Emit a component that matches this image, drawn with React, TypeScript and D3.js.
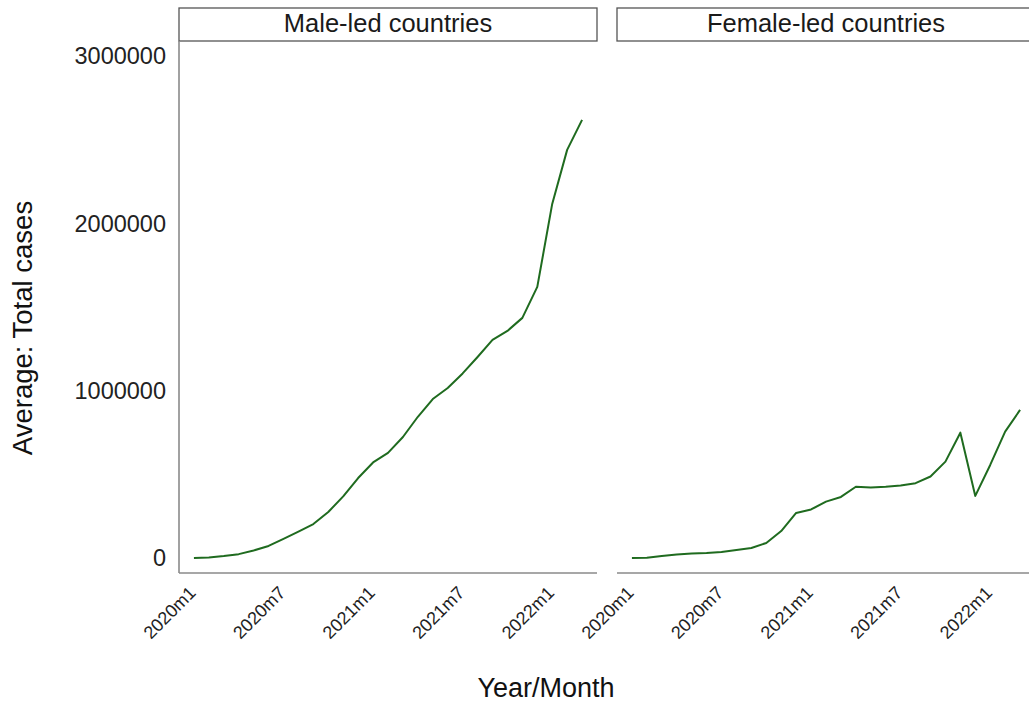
import React from "react";
import * as d3 from "d3";

const months = [
  "2020m1","2020m2","2020m3","2020m4","2020m5","2020m6","2020m7","2020m8","2020m9",
  "2020m10","2020m11","2020m12","2021m1","2021m2","2021m3","2021m4","2021m5","2021m6",
  "2021m7","2021m8","2021m9","2021m10","2021m11","2021m12","2022m1","2022m2","2022m3",
];

const maleLed = [
  0, 3000, 12000, 23000, 45000, 72000, 114000, 158000, 203000,
  275000, 368000, 478000, 571000, 628000, 723000, 844000, 950000, 1016000,
  1103000, 1201000, 1303000, 1357000, 1435000, 1620000, 2116000, 2439000, 2618000,
];

const femaleLed = [
  0, 1000, 12000, 21000, 27000, 30000, 36000, 48000, 60000,
  90000, 161000, 269000, 290000, 337000, 365000, 426000, 421000, 426000,
  433000, 447000, 487000, 576000, 749000, 371000, 556000, 755000, 885000,
];

const panelTitles = ["Male-led countries", "Female-led countries"];
const xTickLabels = ["2020m1", "2020m7", "2021m1", "2021m7", "2022m1"];
const yTicks = [0, 1000000, 2000000, 3000000];

const FONT = "'Liberation Sans', Arial, Helvetica, sans-serif";
const W = 1029;
const H = 703;

const panelLefts = [179, 617];
const panelWidth = 418;
const panelTop = 41;
const panelBottom = 573;
const stripTop = 8;

export default function App() {
  const y = d3.scaleLinear().domain([0, 3000000]).range([558, 56]);
  const series = [maleLed, femaleLed];

  return (
    <svg
      width={W}
      height={H}
      style={{ position: "absolute", left: 0, top: 0, display: "block", background: "#fff" }}
      fontFamily={FONT}
    >
      <rect x={0} y={0} width={W} height={H} fill="#fff" />
      {series.map((vals, p) => {
        const left = panelLefts[p];
        const x = d3
          .scaleLinear()
          .domain([-1, months.length])
          .range([left, left + panelWidth]);
        const line = d3
          .line<number>()
          .x((_, i) => x(i))
          .y((d) => y(d));
        return (
          <g key={p}>
            {/* strip */}
            <rect
              x={left}
              y={stripTop}
              width={panelWidth}
              height={panelTop - stripTop}
              fill="#fff"
              stroke="#555"
              strokeWidth={1.3}
            />
            <text
              x={left + panelWidth / 2}
              y={32}
              textAnchor="middle"
              fontSize={25.5}
              fill="#1a1a1a"
            >
              {panelTitles[p]}
            </text>
            {/* axes */}
            <line
              x1={left}
              x2={left + panelWidth}
              y1={panelBottom}
              y2={panelBottom}
              stroke="#8a8a8a"
              strokeWidth={1.6}
            />
            {p === 0 && (
              <line
                x1={left}
                x2={left}
                y1={panelTop}
                y2={panelBottom}
                stroke="#8a8a8a"
                strokeWidth={1.6}
              />
            )}
            {xTickLabels.map((lab) => {
              const i = months.indexOf(lab);
              const tx = x(i) + 3;
              const ty = 594;
              return (
                <text
                  key={lab}
                  transform={`translate(${tx},${ty}) rotate(-45)`}
                  textAnchor="end"
                  fontSize={18}
                  fill="#222"
                >
                  {lab}
                </text>
              );
            })}
            <path
              d={line(vals) || ""}
              fill="none"
              stroke="#1f6b1f"
              strokeWidth={2}
              strokeLinejoin="round"
            />
          </g>
        );
      })}
      {yTicks.map((t) => (
        <text
          key={t}
          x={166}
          y={y(t)}
          dy="0.35em"
          textAnchor="end"
          fontSize={23.5}
          fill="#222"
        >
          {String(t)}
        </text>
      ))}
      <text
        transform={`translate(32,328) rotate(-90)`}
        textAnchor="middle"
        fontSize={27.5}
        fill="#111"
      >
        Average: Total cases
      </text>
      <text x={546} y={697} textAnchor="middle" fontSize={27} fill="#111">
        Year/Month
      </text>
    </svg>
  );
}
